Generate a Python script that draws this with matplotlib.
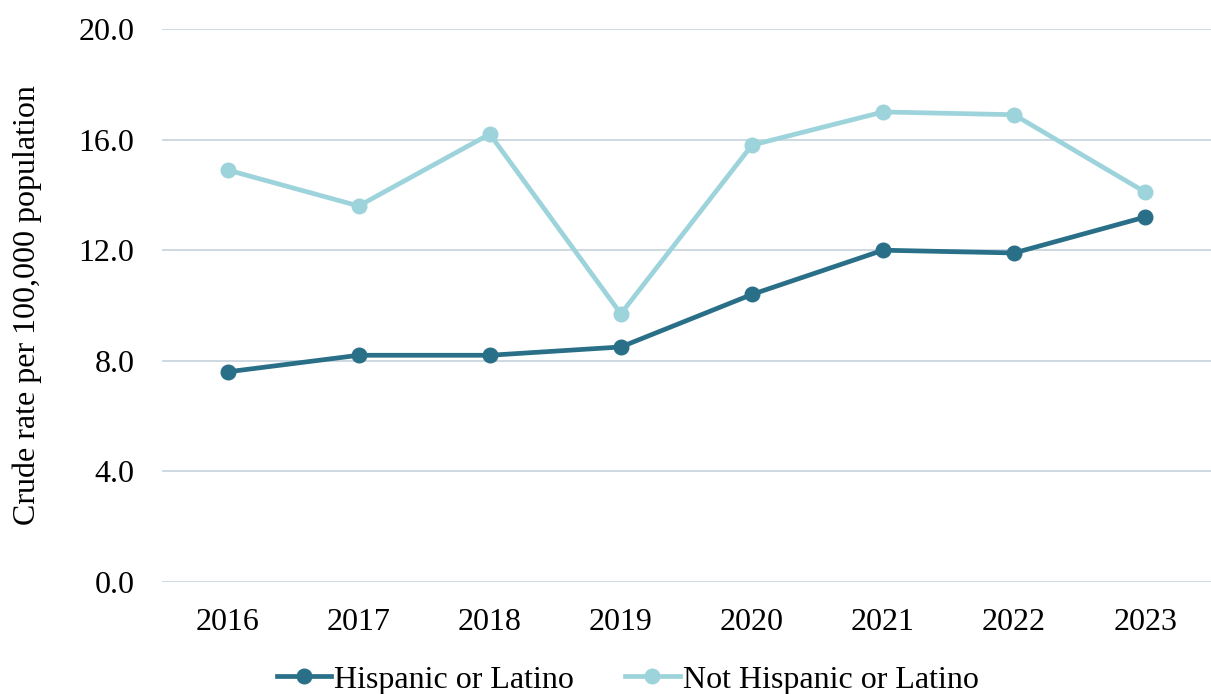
import matplotlib
matplotlib.use('Agg')
import matplotlib.pyplot as plt

years = ['2016', '2017', '2018', '2019', '2020', '2021', '2022', '2023']
hispanic = [7.6, 8.2, 8.2, 8.5, 10.4, 12.0, 11.9, 13.2]
not_hispanic = [14.9, 13.6, 16.2, 9.7, 15.8, 17.0, 16.9, 14.1]
yticks = [0, 4, 8, 12, 16, 20]

plt.rcParams['font.family'] = ['Liberation Serif', 'DejaVu Serif']

fig = plt.figure(figsize=(12.11, 6.94), dpi=100)
ax = fig.add_axes([0.1338, 0.1614, 0.866, 0.7968])

x = range(len(years))
ax.plot(x, hispanic, color='#2A6F88', lw=3.4, marker='o', ms=10.5,
        label='Hispanic or Latino', zorder=3)
ax.plot(x, not_hispanic, color='#9DD3DB', lw=3.4, marker='o', ms=10.5,
        label='Not Hispanic or Latino', zorder=3)

ax.set_xlim(-0.5, len(years) - 0.5)
ax.set_ylim(0, 20)
ax.set_yticks(yticks)
ax.set_yticklabels([f'{v:.1f}' for v in yticks])
ax.set_xticks(list(x))
ax.set_xticklabels(years)
ax.tick_params(length=0, labelsize=23, colors='black')
ax.tick_params(axis='y', pad=20)
ax.tick_params(axis='x', pad=19)
ax.grid(axis='y', color='#C9D6DF', lw=1.3)
ax.set_axisbelow(True)
for s in ax.spines.values():
    s.set_visible(False)

ax.set_ylabel('Crude rate per 100,000 population', fontsize=23, labelpad=26)

ax.legend(loc='center', bbox_to_anchor=(0.444, -0.177), ncol=2,
          frameon=False, fontsize=23, handlelength=1.7, handletextpad=0.1,
          columnspacing=1.6, borderaxespad=0)

fig.savefig('out.png', dpi=100)
